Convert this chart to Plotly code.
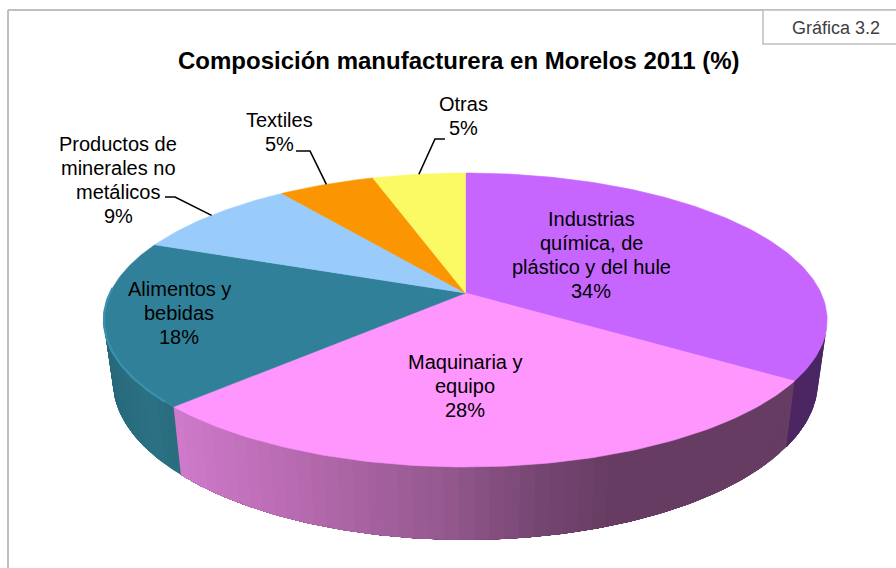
import math
import plotly.graph_objects as go

categories = [["Industrias", "química, de", "plástico y del hule"], ["Maquinaria y", "equipo"],
              ["Alimentos y", "bebidas"], ["Productos de", "minerales no", "metálicos"], ["Textiles"], ["Otras"]]
values = [34.4, 28.3, 18.2, 9.0, 5.15, 4.95]
labels = ["34%", "28%", "18%", "9%", "5%", "5%"]
colors = ["#C766FF", "#FE96FD", "#318099", "#99CBFB", "#FB9602", "#FCFA64"]
title = "Composición manufacturera en Morelos 2011 (%)"
tag = "Gráfica 3.2"

# pie seen in perspective, all in page pixels
CX, CY = 465.5, 293
A, B, K = 355.5, 142, 0.1837
BOTTOM_CY, BOTTOM_SX, BOTTOM_SY = 352, 0.975, 1.08
VISIBLE = (103, 257)
FONT = "Liberation Sans"
LINE_H = 23.7

# where the text sits and the elbow of the leader line
label_pos = [(591, 255), (465, 386), (179, 313), (118, 180), (279, 132), (463, 116)]
elbows = [None, None, None, [(165, 197), (175, 197)], [(296, 151), (310, 151)], [(445, 139), (435, 139)]]

# wall shading: (x, rgb) stops for each slice
wall_stops = [
    [(780, (76, 38, 100)), (830, (74, 38, 98))],
    [(175, (207, 122, 203)), (300, (182, 106, 175)), (448, (148, 88, 142)), (540, (118, 70, 114)), (620, (102, 60, 98)), (790, (102, 60, 98))],
    [(105, (40, 105, 124)), (150, (44, 114, 132)), (182, (40, 106, 124))],
    [], [], [],
]


def top_rim(deg):
    s, c = math.sin(math.radians(deg)), math.cos(math.radians(deg))
    d = 1 + K * c
    return CX + A * s / d, CY - B * c / d


def bottom_rim(deg):
    x, y = top_rim(deg)
    return CX + (x - CX) * BOTTOM_SX, BOTTOM_CY + (y - CY) * BOTTOM_SY


def arc(fn, a0, a1, step=1.0):
    n = max(2, int(abs(a1 - a0) / step) + 1)
    pts = [fn(a0 + (a1 - a0) * i / (n - 1)) for i in range(n)]
    return [p[0] for p in pts], [p[1] for p in pts]


def stop_color(stops, x):
    if x <= stops[0][0]:
        r = stops[0][1]
    elif x >= stops[-1][0]:
        r = stops[-1][1]
    else:
        for (x0, c0), (x1, c1) in zip(stops, stops[1:]):
            if x0 <= x <= x1:
                t = (x - x0) / (x1 - x0)
                r = [c0[i] + (c1[i] - c0[i]) * t for i in range(3)]
                break
    return "rgb(%d,%d,%d)" % (r[0], r[1], r[2])


def poly(xs, ys, color, width=0.6):
    return go.Scatter(x=xs, y=ys, mode="lines", fill="toself", fillcolor=color,
                      line=dict(color=color, width=width), hoverinfo="skip", showlegend=False)


fig = go.Figure()

total = sum(values)
edges = [0]
for v in values:
    edges.append(edges[-1] + v / total * 360)

# side walls, each band runs on to the end of its slice so no seams show
for i, v in enumerate(values):
    a0, a1 = max(edges[i], VISIBLE[0]), min(edges[i + 1], VISIBLE[1])
    if a1 <= a0:
        continue
    bands = max(1, int((a1 - a0) / 2))
    for b in range(bands):
        b0 = a0 + (a1 - a0) * b / bands
        b1 = a0 + (a1 - a0) * (b + 1) / bands
        tx, ty = arc(top_rim, b0, a1, 0.5)
        bx, by = arc(bottom_rim, a1, b0, 0.5)
        mid = (top_rim(b0)[0] + top_rim(b1)[0]) / 2
        fig.add_trace(poly(tx + bx, ty + by, stop_color(wall_stops[i], mid), width=0))

# top face
for i, v in enumerate(values):
    rx, ry = arc(top_rim, edges[i], edges[i + 1])
    fig.add_trace(poly([CX] + rx + [CX], [CY] + ry + [CY], colors[i]))

# lighter bevel on the teal rim
rx, ry = arc(top_rim, edges[2] + 2, 272)
fig.add_trace(go.Scatter(x=rx, y=ry, mode="lines", line=dict(color="#3A91AE", width=2.2),
                         hoverinfo="skip", showlegend=False))

# leader lines go from the elbow to the middle of the slice
for i, elbow in enumerate(elbows):
    if elbow is None:
        continue
    end = top_rim((edges[i] + edges[i + 1]) / 2)
    pts = elbow + [end]
    fig.add_trace(go.Scatter(x=[p[0] for p in pts], y=[p[1] for p in pts], mode="lines",
                             line=dict(color="black", width=1.6), hoverinfo="skip", showlegend=False))

for i, name in enumerate(categories):
    lines = name + [labels[i]]
    for j, line in enumerate(lines):
        fig.add_annotation(x=label_pos[i][0], y=label_pos[i][1] + (j - (len(lines) - 1) / 2) * LINE_H,
                           text=line, showarrow=False, xanchor="center", yanchor="middle",
                           font=dict(family=FONT, size=20, color="black"))

fig.add_annotation(x=458.5, y=60, text="<b>" + title + "</b>", showarrow=False,
                   font=dict(family=FONT, size=24, color="black"))

# chart frame and the tag box
fig.add_shape(type="line", x0=8, y0=568, x1=8, y1=10, line=dict(color="#BFBFBF", width=2))
fig.add_shape(type="line", x0=8, y0=10, x1=896, y1=10, line=dict(color="#BFBFBF", width=2))
fig.add_shape(type="rect", x0=763, y0=10, x1=900, y1=44, line=dict(color="#BFBFBF", width=1.5), fillcolor="white")
fig.add_annotation(x=836, y=28, text=tag, showarrow=False, font=dict(family=FONT, size=18, color="#404040"))

fig.update_xaxes(visible=False, range=[0, 896], fixedrange=True)
fig.update_yaxes(visible=False, range=[568, 0], fixedrange=True)
fig.update_layout(width=896, height=568, margin=dict(l=0, r=0, t=0, b=0),
                  paper_bgcolor="white", plot_bgcolor="white", showlegend=False)

fig.write_html("out.html", config=dict(displayModeBar=False),
               post_script="document.body.style.margin='0';document.body.style.overflow='hidden';")
